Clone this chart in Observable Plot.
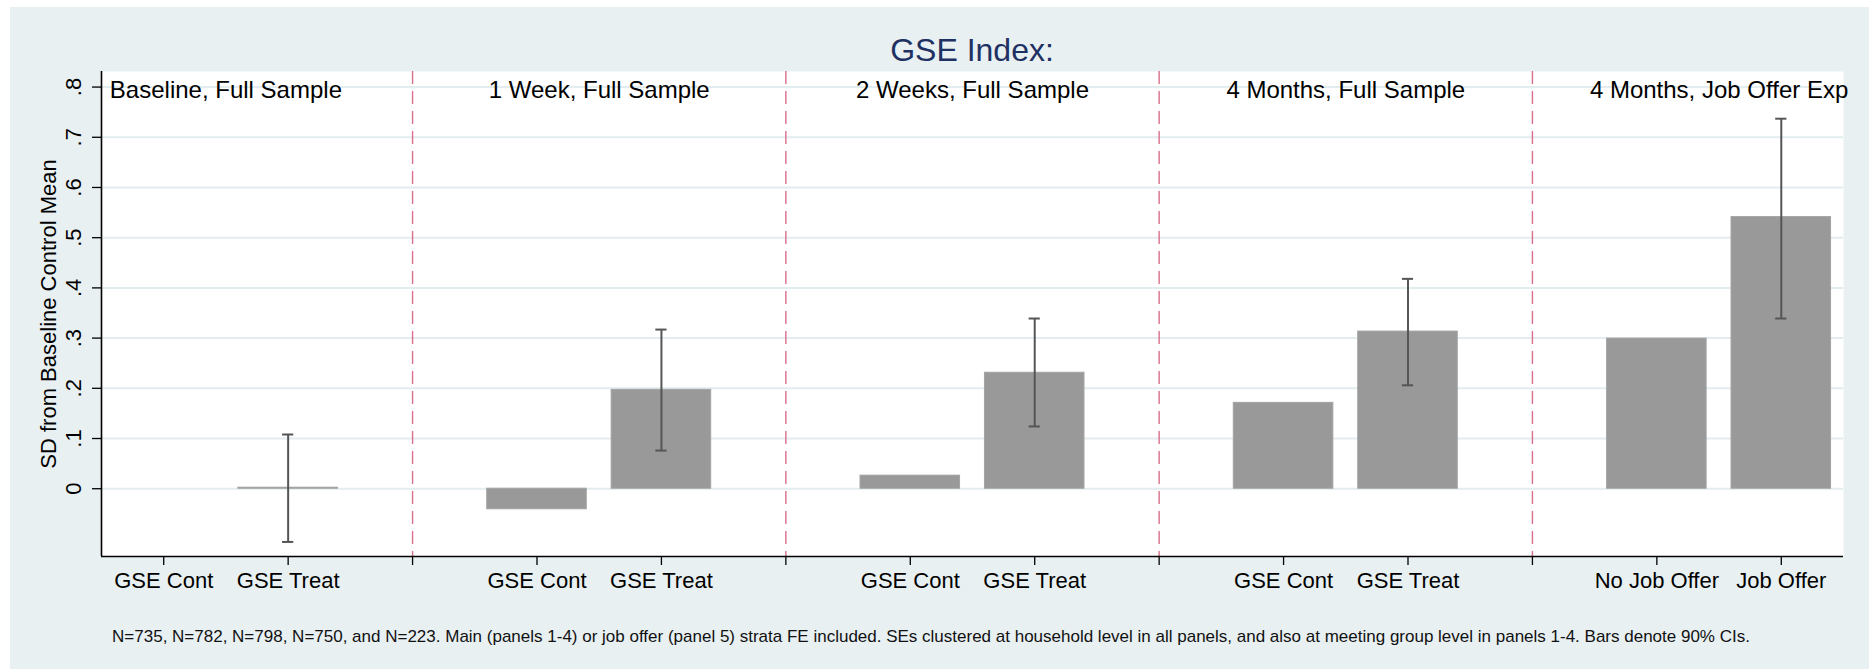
<!DOCTYPE html>
<html>
<head>
<meta charset="utf-8">
<script src="https://cdn.jsdelivr.net/npm/d3@7"></script>
<script src="https://cdn.jsdelivr.net/npm/@observablehq/plot@0.6"></script>
<style>
  html, body { margin: 0; padding: 0; background: #ffffff; }
  body { position: relative; width: 1875px; height: 669px; overflow: hidden; font-family: "Liberation Sans", Arial, Helvetica, sans-serif; }
  #bg { position: absolute; left: 10px; top: 7px; width: 1859px; height: 662px; background: #e8f0f2; }
  #title { position: absolute; left: 472px; width: 1000px; top: 34px; text-align: center; font-size: 32px; line-height: 32px; color: #1f3163; }
  #chart { position: absolute; left: 10px; top: 61px; }
  #note { position: absolute; left: -69px; width: 2000px; top: 628px; text-align: center; font-size: 17px; line-height: 17px; color: #111; white-space: nowrap; }
</style>
</head>
<body>
<div id="bg"></div>
<div id="title">GSE Index:</div>
<div id="chart"></div>
<div id="note"></div>
<script>
// ---- data ----
const panelTitles = ["Baseline, Full Sample", "1 Week, Full Sample", "2 Weeks, Full Sample", "4 Months, Full Sample", "4 Months, Job Offer Exp"];
const controlLabels = ["GSE Cont", "GSE Cont", "GSE Cont", "GSE Cont", "No Job Offer"];
const treatLabels = ["GSE Treat", "GSE Treat", "GSE Treat", "GSE Treat", "Job Offer"];
const controlValues = [0, -0.041, 0.026, 0.171, 0.299];
const treatValues = [0.002, 0.197, 0.231, 0.313, 0.541];
const ciLow = [-0.106, 0.076, 0.124, 0.206, 0.339];
const ciHigh = [0.108, 0.317, 0.339, 0.418, 0.737];
const yTicks = [0, 0.1, 0.2, 0.3, 0.4, 0.5, 0.6, 0.7, 0.8];
const yTitle = "SD from Baseline Control Mean";
const footnote = "N=735, N=782, N=798, N=750, and N=223. Main (panels 1-4) or job offer (panel 5) strata FE included. SEs clustered at household level in all panels, and also at meeting group level in panels 1-4. Bars denote 90% CIs.";

// ---- derived tables ----
const bars = [];
const labelAt = new Map();
const separators = [];
panelTitles.forEach((t, i) => {
  const base = i * 3;
  bars.push({pos: base + 1, value: controlValues[i]});
  bars.push({pos: base + 2, value: treatValues[i]});
  labelAt.set(base + 1, controlLabels[i]);
  labelAt.set(base + 2, treatLabels[i]);
  if (i < panelTitles.length - 1) separators.push(base + 3);
});
const errs = panelTitles.map((t, i) => ({pos: i * 3 + 2, lo: ciLow[i], hi: ciHigh[i]}));
const panels = panelTitles.map((t, i) => ({pos: i * 3 + 1.5, title: t}));
const xTicks = d3.range(1, panelTitles.length * 3);
const xDomain = [0.5, panelTitles.length * 3 - 0.5];
const yDomain = [-0.135, 0.831];
const halfBar = 0.4, capHalf = 0.045;
const fmt = d => d === 0 ? "0" : d3.format(".1f")(d).replace(/^0/, "");

const chart = Plot.plot({
  width: 1859,
  height: 608,
  marginTop: 10,
  marginBottom: 113,
  marginLeft: 91,
  marginRight: 26,
  style: {background: "transparent", fontFamily: "'Liberation Sans', Arial, Helvetica, sans-serif", fontSize: "22px", color: "#000"},
  x: {domain: xDomain, axis: null},
  y: {domain: yDomain, axis: null},
  marks: [
    Plot.frame({fill: "white", stroke: null}),
    Plot.gridY(yTicks, {stroke: "#e3ecef", strokeOpacity: 1, strokeWidth: 2}),
    Plot.ruleX(separators, {stroke: "#d9708b", strokeWidth: 1.4, strokeDasharray: "13,7"}),
    Plot.rectY(bars.filter(d => d.value !== 0), {x1: d => d.pos - halfBar, x2: d => d.pos + halfBar, y1: 0, y2: "value", fill: "#999999", stroke: "#a3a3a3", strokeWidth: 1}),
    Plot.ruleX(errs, {x: "pos", y1: "lo", y2: "hi", stroke: "#555555", strokeWidth: 2}),
    Plot.ruleY(errs, {y: "lo", x1: d => d.pos - capHalf, x2: d => d.pos + capHalf, stroke: "#555555", strokeWidth: 2}),
    Plot.ruleY(errs, {y: "hi", x1: d => d.pos - capHalf, x2: d => d.pos + capHalf, stroke: "#555555", strokeWidth: 2}),
    Plot.text(panels, {x: "pos", y: yTicks[yTicks.length - 1], text: "title", fontSize: 24, fill: "#000", dy: 3}),
    Plot.ruleX([xDomain[0]], {stroke: "#000", strokeWidth: 1.6}),
    Plot.ruleY([yDomain[0]], {stroke: "#000", strokeWidth: 1.6}),
    Plot.axisY({ticks: yTicks, tickFormat: fmt, tickRotate: -90, tickSize: 9, tickPadding: 12, fontSize: 22, label: null, stroke: "#000", strokeWidth: 1.3}),
    Plot.axisX({ticks: xTicks, tickFormat: d => labelAt.get(d) || "", tickSize: 9, tickPadding: 7, fontSize: 22, label: null, stroke: "#000", strokeWidth: 1.3}),
    Plot.text([yTitle], {frameAnchor: "left", text: d => d, rotate: -90, dx: -53, textAnchor: "middle", lineAnchor: "middle", fontSize: 22, fill: "#000"})
  ]
});
document.getElementById("chart").appendChild(chart);
document.getElementById("note").textContent = footnote;
</script>
</body>
</html>
